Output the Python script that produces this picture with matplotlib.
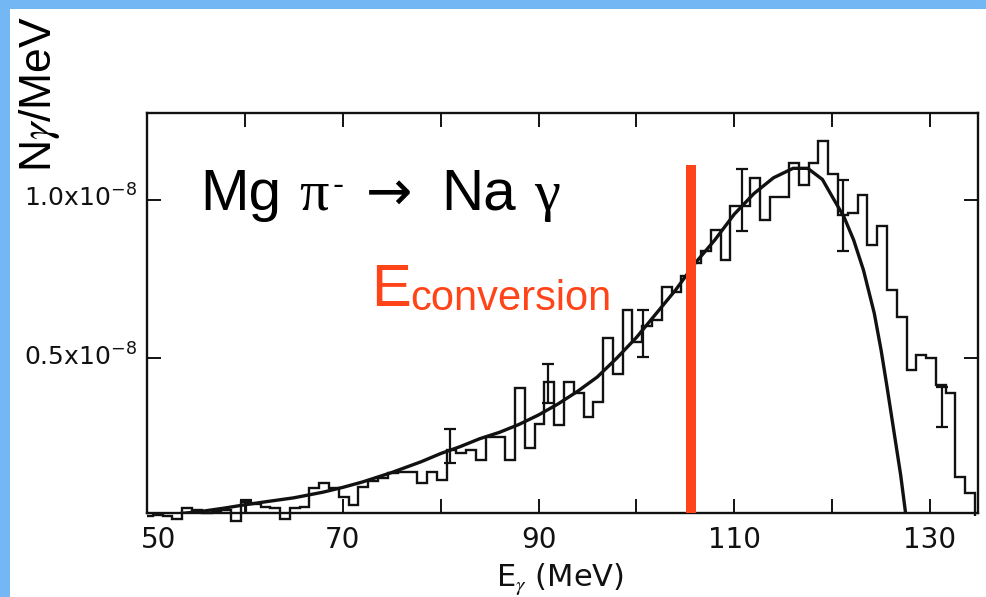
import numpy as np
import matplotlib
matplotlib.use('Agg')
import matplotlib.pyplot as plt
from matplotlib.patches import Rectangle
import matplotlib.transforms as mtransforms

plt.rcParams['font.family'] = ['Liberation Sans', 'DejaVu Sans']
plt.rcParams['mathtext.fontset'] = 'stix'
plt.rcParams['mathtext.default'] = 'regular'

# ---------------- data (values in units of 1e-8 per MeV) ----------------
bin_edges = np.arange(49.6, 135.0, 1.0)          # 1 MeV bins
counts = [
    0.0, 0.005, 0.0, -0.008, 0.025, 0.02, 0.01, 0.015, 0.02, -0.015,      # 50-59
    0.045, 0.04, 0.03, 0.025, -0.01, 0.025, 0.03, 0.088, 0.105, 0.088,    # 60-69
    0.06, 0.035, 0.093, 0.11, 0.12, 0.135, 0.14, 0.14, 0.105, 0.14,       # 70-79
    0.114, 0.21, 0.2, 0.21, 0.177, 0.25, 0.25, 0.177, 0.404, 0.214,       # 80-89
    0.29, 0.425, 0.288, 0.425, 0.39, 0.314, 0.36, 0.562, 0.45, 0.652,     # 90-99
    0.55, 0.60, 0.62, 0.726, 0.71, 0.76, 0.80, 0.84, 0.905, 0.81,         # 100-109
    0.98, 0.98, 1.068, 0.937, 1.01, 1.01, 1.117, 1.047, 1.117, 1.185,     # 110-119
    1.083, 0.953, 0.958, 1.016, 0.858, 0.918, 0.715, 0.631, 0.462, 0.51,  # 120-129
    0.499, 0.415, 0.388, 0.124, 0.072,                                    # 130-134
]

fit_energy = [50, 52, 54, 56, 58, 60, 62, 65, 68, 70, 72, 75, 78, 80, 82, 84,
              86, 88, 90, 92, 94, 96, 98, 100, 102, 104, 106, 108, 110, 112,
              114, 116, 117.5, 119, 120.2, 121.2, 122.2, 123.2, 124.3, 125,
              125.6, 126.3, 127.0, 127.5]
fit_value = [0.0, 0.004, 0.01, 0.017, 0.026, 0.036, 0.045, 0.058, 0.076, 0.091,
             0.108, 0.138, 0.172, 0.198, 0.22, 0.245, 0.265, 0.29, 0.32, 0.355,
             0.395, 0.44, 0.50, 0.565, 0.64, 0.715, 0.80, 0.873, 0.955, 1.02,
             1.07, 1.10, 1.10, 1.065, 1.0, 0.947, 0.873, 0.778, 0.642, 0.525,
             0.41, 0.27, 0.13, 0.01]

err_energy = [60.1, 81.0, 91.0, 100.7, 110.8, 121.1, 131.2]
err_value = [0.02, 0.222, 0.42, 0.578, 1.0, 0.95, 0.345]
err_size = [0.03, 0.055, 0.062, 0.074, 0.097, 0.113, 0.063]

e_conversion = 105.6
conversion_line_top = 1.11

x_ticks = [50, 60, 70, 80, 90, 100, 110, 120, 130]
x_tick_labels = ['50', '', '70', '', '90', '', '110', '', '130']
y_ticks = [0.5, 1.0]
y_tick_labels = ['0.5x10$^{-8}$', '1.0x10$^{-8}$']

# ---------------- figure ----------------
W, H = 986, 597
fig = plt.figure(figsize=(W / 100, H / 100), dpi=100)
fig.patch.set_facecolor('white')
blue = '#74b7f5'
fig.add_artist(Rectangle((0, 0), 10 / W, 1, transform=fig.transFigure,
                         facecolor=blue, edgecolor='none', zorder=0))
fig.add_artist(Rectangle((0, 1 - 9 / H), 1, 9 / H, transform=fig.transFigure,
                         facecolor=blue, edgecolor='none', zorder=0))

ax = fig.add_axes([147 / W, 1 - 513 / H, (978 - 147) / W, (513 - 113) / H])
ink = '#111111'
red = '#ff4419'

st = ax.stairs(counts, bin_edges, baseline=0, color=ink, linewidth=1.7)
clip = Rectangle((0, -0.05), 1, 1.05, transform=ax.transAxes)
st.set_clip_path(clip)

ax.plot(fit_energy, fit_value, color=ink, linewidth=2.4, solid_capstyle='round')
ax.errorbar(err_energy, err_value, yerr=err_size, fmt='none', ecolor=ink,
            elinewidth=1.6, capsize=4, capthick=1.6)

ax.plot([e_conversion, e_conversion], [0, conversion_line_top], color=red,
        linewidth=7.2, solid_capstyle='butt', zorder=5)

ax.set_xlim(50, 134.9)
ax.set_ylim(0.01, 1.275)

ax.set_xticks(x_ticks)
ax.set_xticklabels(x_tick_labels, fontsize=20, family='DejaVu Sans', color=ink)
ax.set_yticks(y_ticks)
ax.set_yticklabels(y_tick_labels, fontsize=18, family='DejaVu Sans', color=ink)
ax.tick_params(direction='in', top=True, right=True, length=10, width=1.4,
               color=ink)
ax.tick_params(axis='x', pad=9)
ax.tick_params(axis='y', pad=7)
for sp in ax.spines.values():
    sp.set_linewidth(1.7)
    sp.set_color(ink)

lab = ax.get_xticklabels()[0]
lab.set_transform(lab.get_transform() +
                  mtransforms.ScaledTranslation(0.12, 0, fig.dpi_scale_trans))
for ylab in ax.get_yticklabels():
    ylab.set_transform(ylab.get_transform() +
                       mtransforms.ScaledTranslation(0, 0.04, fig.dpi_scale_trans))


def fpos(x, y):
    return x / W, 1 - y / H


# reaction label
fig.text(*fpos(200, 210), 'Mg', fontsize=42, va='baseline', ha='left', color='black')
fig.text(*fpos(299, 210), 'π', fontsize=42, family='Liberation Serif', va='baseline', ha='left')
fig.text(*fpos(332, 195), '-', fontsize=24, va='baseline', ha='left')
fig.text(*fpos(366, 210), '→', fontsize=40, family='DejaVu Sans', va='baseline', ha='left')
fig.text(*fpos(441, 210), 'Na', fontsize=42, va='baseline', ha='left')
fig.text(*fpos(534, 210), 'γ', fontsize=42, family='Liberation Serif', va='baseline', ha='left')

# conversion label
fig.text(*fpos(371, 306), 'E', fontsize=43, color=red, va='baseline', ha='left')
fig.text(*fpos(410, 310), 'conversion', fontsize=30, color=red, va='baseline', ha='left')

# axis labels
fig.text(*fpos(40, 172), 'N$\\mathit{\\gamma}$/MeV', rotation=90, ha='center',
         va='bottom', fontsize=32, color='black')
fig.text(*fpos(560, 586), 'E$_{\\mathit{\\gamma}}$ (MeV)', ha='center', va='baseline',
         fontsize=22, family='DejaVu Sans', color=ink)

fig.savefig('out.png', dpi=100, facecolor=fig.get_facecolor())
